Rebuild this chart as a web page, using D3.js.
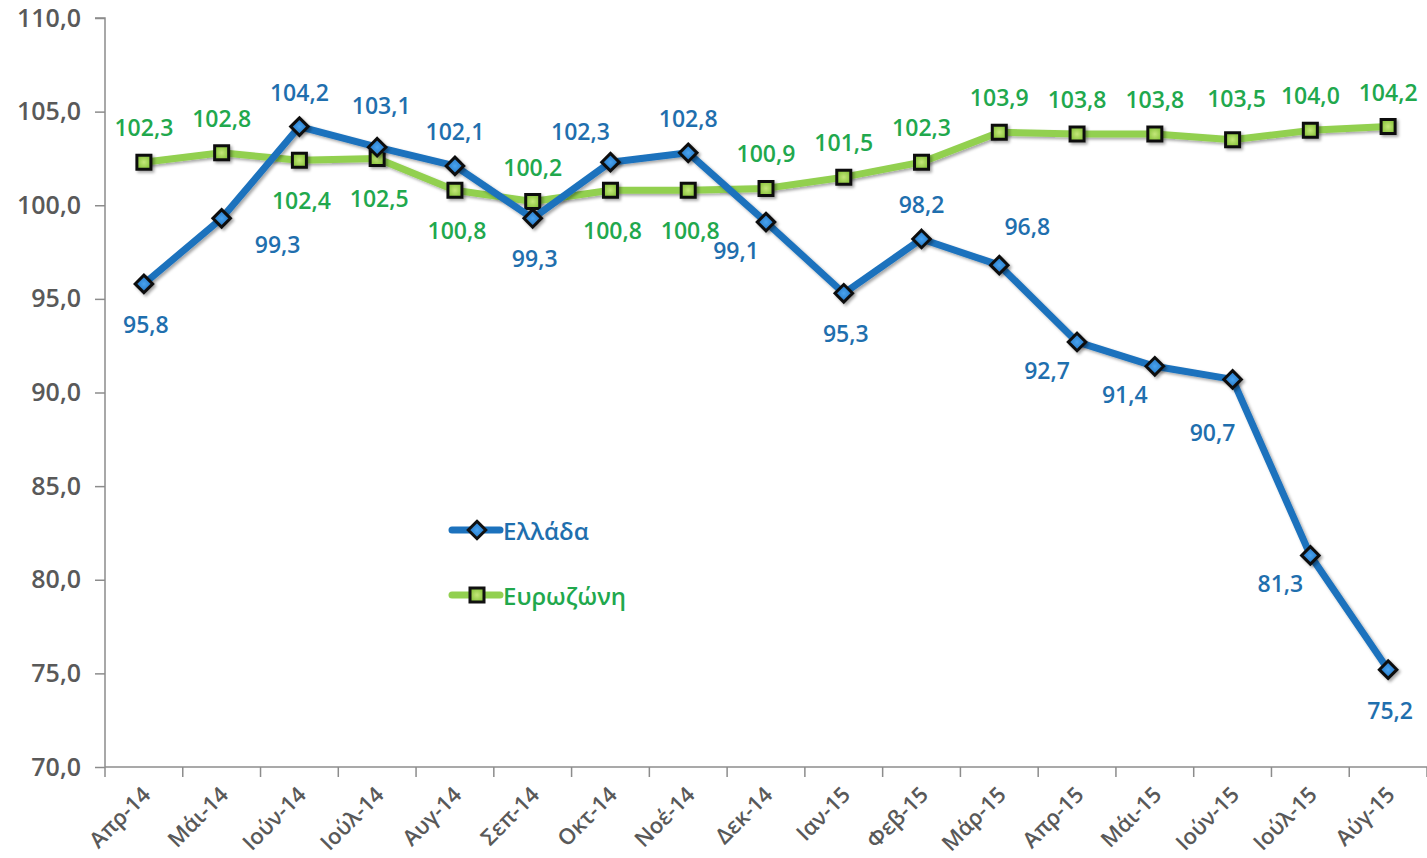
<!DOCTYPE html>
<html>
<head>
<meta charset="utf-8">
<script src="https://cdn.jsdelivr.net/npm/d3@7"></script>
<style>
  body { margin: 0; background: #fff; }
  #chart { width: 1427px; height: 858px; }
  text { font-family: "Open Sans", "Noto Sans", sans-serif; }
  .axis path, .axis line { stroke: #8c8c8c; stroke-width: 1.5px; }
</style>
</head>
<body>
<div id="chart"></div>
<script>
// months (Apr 2014 - Aug 2015)
const months = ["Απρ-14", "Μάι-14", "Ιούν-14", "Ιούλ-14", "Αυγ-14", "Σεπ-14", "Οκτ-14", "Νοέ-14",
  "Δεκ-14", "Ιαν-15", "Φεβ-15", "Μάρ-15", "Απρ-15", "Μάι-15", "Ιούν-15", "Ιούλ-15", "Αύγ-15"];

const greece = [95.8, 99.3, 104.2, 103.1, 102.1, 99.3, 102.3, 102.8, 99.1, 95.3, 98.2, 96.8, 92.7, 91.4, 90.7, 81.3, 75.2];
const eurozone = [102.3, 102.8, 102.4, 102.5, 100.8, 100.2, 100.8, 100.8, 100.9, 101.5, 102.3, 103.9, 103.8, 103.8, 103.5, 104.0, 104.2];

const yTicks = [70, 75, 80, 85, 90, 95, 100, 105, 110];

// where each data label sits relative to its point
const greeceLabelSide = ["b", "br", "t", "t2", "t", "b", "tl", "t", "bl", "b", "t", "tr", "bl", "bl", "bl2", "bl", "b"];
const euroLabelSide = ["t", "t", "b", "b", "b", "t", "b", "b", "t", "t", "t", "t", "t", "t", "t2", "t", "t"];

const labelOffsets = {
  t: [0, -35], t2: [4, -42], b: [2, 40], bl: [-30, 28], bl2: [-20, 53],
  br: [56, 26], tl: [-30, -31], tr: [28, -39]
};

const fmt = v => v.toFixed(1).replace(".", ",");

const margin = { top: 18, right: 0, bottom: 91, left: 105 };
const width = 1427 - margin.left - margin.right;
const height = 858 - margin.top - margin.bottom;

const svg = d3.select("#chart").append("svg")
  .attr("width", 1427)
  .attr("height", 858);

const defs = svg.append("defs");
const shadow = defs.append("filter").attr("id", "shadow")
  .attr("x", "-50%").attr("y", "-50%").attr("width", "200%").attr("height", "200%");
shadow.append("feDropShadow")
  .attr("dx", 2).attr("dy", 2).attr("stdDeviation", 1.5)
  .attr("flood-color", "#000").attr("flood-opacity", 0.35);

const gGreen = defs.append("radialGradient").attr("id", "gGreen");
gGreen.append("stop").attr("offset", "0%").attr("stop-color", "#c4e77a");
gGreen.append("stop").attr("offset", "100%").attr("stop-color", "#8cc63f");
const gBlue = defs.append("radialGradient").attr("id", "gBlue");
gBlue.append("stop").attr("offset", "0%").attr("stop-color", "#4aa3ee");
gBlue.append("stop").attr("offset", "100%").attr("stop-color", "#1f74c4");

const plot = svg.append("g")
  .attr("transform", `translate(${margin.left},${margin.top})`);

const x = d3.scaleBand()
  .domain(months)
  .range([0, width])
  .padding(0);

const y = d3.scaleLinear()
  .domain([70, 110])
  .range([height, 0]);

const cx = d => x(d) + x.bandwidth() / 2;

// axes
const yAxis = d3.axisLeft(y)
  .tickValues(yTicks)
  .tickSize(10)
  .tickPadding(14)
  .tickFormat(fmt);

plot.append("g")
  .attr("class", "axis y-axis")
  .call(yAxis)
  .call(g => g.select(".domain").attr("d", `M-10,0H0V${height}`))
  .call(g => g.selectAll("text")
    .attr("fill", "#595959")
    .style("font-family", "'Open Sans', sans-serif")
    .style("font-size", "25px")
    .style("font-weight", 600));

// x ticks sit on the category boundaries
const xBoundary = d3.scaleLinear().domain([0, months.length]).range([0, width]);
const xAxisG = plot.append("g")
  .attr("class", "axis x-axis")
  .attr("transform", `translate(0,${height})`);

xAxisG.append("path")
  .attr("d", `M0,0H${width}`)
  .attr("fill", "none");

xAxisG.selectAll("line")
  .data(d3.range(months.length + 1))
  .join("line")
  .attr("x1", i => xBoundary(i))
  .attr("x2", i => xBoundary(i))
  .attr("y1", 0)
  .attr("y2", 10);

xAxisG.selectAll("text")
  .data(months)
  .join("text")
  .attr("text-anchor", "end")
  .attr("fill", "#595959")
  .attr("transform", d => `translate(${cx(d) + 8},${29}) rotate(-45)`)
  .style("font-size", "22px")
  .style("font-weight", 600)
  .text(d => d);

// series
const series = [
  { name: "Ευρωζώνη", values: eurozone, sides: euroLabelSide, line: "#92d050", text: "#21a84d", marker: "square", fill: "url(#gGreen)" },
  { name: "Ελλάδα", values: greece, sides: greeceLabelSide, line: "#1c72bd", text: "#1f6fae", marker: "diamond", fill: "url(#gBlue)" }
];

const line = d3.line()
  .x((d, i) => cx(months[i]))
  .y(d => y(d));

const markerPath = (type, size) => type === "square"
  ? `M${-size / 2},${-size / 2}h${size}v${size}h${-size}Z`
  : `M0,${-size / 1.6}L${size / 1.6},0L0,${size / 1.6}L${-size / 1.6},0Z`;

series.forEach(s => {
  const g = plot.append("g");

  g.append("path")
    .datum(s.values)
    .attr("d", line)
    .attr("fill", "none")
    .attr("stroke", s.line)
    .attr("stroke-width", 7)
    .attr("stroke-linejoin", "round")
    .attr("filter", "url(#shadow)");

  g.selectAll(".marker")
    .data(s.values)
    .join("path")
    .attr("class", "marker")
    .attr("transform", (d, i) => `translate(${cx(months[i])},${y(d)})`)
    .attr("d", markerPath(s.marker, 14))
    .attr("fill", s.fill)
    .attr("stroke", "#111")
    .attr("stroke-width", 3)
    .attr("filter", "url(#shadow)");
});

// data labels on top of everything
series.forEach(s => {
  plot.append("g").selectAll("text")
    .data(s.values)
    .join("text")
    .attr("x", (d, i) => cx(months[i]) + labelOffsets[s.sides[i]][0])
    .attr("y", (d, i) => y(d) + labelOffsets[s.sides[i]][1])
    .attr("text-anchor", "middle")
    .attr("dominant-baseline", "central")
    .attr("fill", s.text)
    .style("font-size", "23px")
    .style("font-weight", 600)
    .text(fmt);
});

// legend
const legend = svg.append("g").attr("transform", "translate(452,530)");
const legendItems = [series[1], series[0]];
legendItems.forEach((s, i) => {
  const row = legend.append("g").attr("transform", `translate(0,${i * 65})`);
  row.append("line")
    .attr("x1", 0).attr("x2", 48)
    .attr("stroke", s.line)
    .attr("stroke-width", 7)
    .attr("stroke-linecap", "round");
  row.append("path")
    .attr("transform", "translate(25,0)")
    .attr("d", markerPath(s.marker, 14))
    .attr("fill", s.fill)
    .attr("stroke", "#111")
    .attr("stroke-width", 3);
  row.append("text")
    .attr("x", 51)
    .attr("dominant-baseline", "central")
    .attr("fill", s.text)
    .style("font-size", "24px")
    .style("font-weight", 600)
    .text(s.name);
});
</script>
</body>
</html>
